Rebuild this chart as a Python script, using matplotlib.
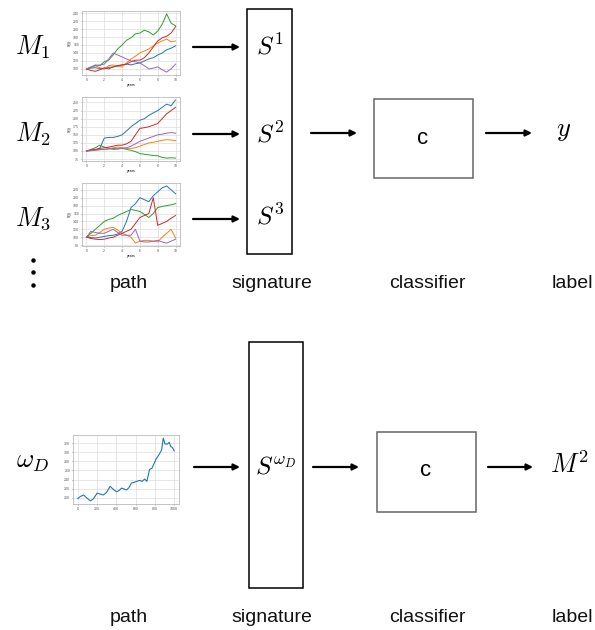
import numpy as np
import matplotlib.pyplot as plt
from matplotlib.patches import Rectangle

plt.rcParams['mathtext.fontset'] = 'cm'
plt.rcParams['font.family'] = 'Liberation Sans'

W, H = 595, 630

# simulated price paths shown in the thumbnails
years = np.arange(0, 10.5, 0.5)
path1 = {
    'tab:blue':   [100, 102, 103, 101, 100, 104, 105, 108, 110, 112, 110, 113, 115, 120, 125, 128, 135, 140, 148, 152, 158],
    'tab:orange': [100, 104, 108, 103, 100, 108, 110, 106, 105, 115, 125, 132, 140, 145, 150, 158, 165, 170, 175, 168, 170],
    'tab:green':  [100, 104, 110, 108, 118, 122, 135, 150, 160, 172, 178, 188, 190, 197, 193, 185, 195, 212, 238, 215, 208],
    'tab:red':    [100, 96, 94, 98, 103, 100, 105, 108, 110, 112, 118, 122, 122, 128, 140, 155, 170, 178, 182, 190, 206],
    'tab:purple': [100, 105, 108, 110, 112, 125, 140, 135, 130, 125, 120, 118, 115, 108, 100, 102, 105, 98, 92, 100, 112],
}
path2 = {
    'tab:blue':   [100, 102, 103, 108, 140, 142, 142, 145, 150, 162, 175, 185, 195, 200, 210, 218, 225, 235, 245, 240, 258],
    'tab:orange': [100, 101, 102, 104, 105, 107, 110, 112, 110, 108, 108, 110, 115, 120, 125, 127, 130, 133, 135, 134, 132],
    'tab:green':  [100, 105, 110, 118, 112, 108, 105, 106, 108, 105, 102, 98, 92, 90, 88, 86, 85, 80, 78, 79, 78],
    'tab:red':    [100, 103, 105, 108, 110, 112, 115, 118, 118, 122, 130, 150, 170, 172, 175, 180, 185, 200, 215, 225, 235],
    'tab:purple': [100, 101, 103, 104, 105, 106, 108, 107, 108, 110, 115, 122, 130, 135, 140, 145, 150, 152, 155, 157, 155],
}
path3 = {
    'tab:blue':   [100, 99, 98, 100, 102, 104, 105, 108, 115, 140, 175, 185, 200, 195, 190, 205, 215, 225, 230, 220, 210],
    'tab:orange': [100, 104, 105, 112, 120, 123, 125, 118, 110, 105, 100, 85, 90, 92, 92, 90, 88, 100, 110, 120, 98],
    'tab:green':  [100, 110, 120, 130, 140, 145, 148, 155, 160, 165, 170, 168, 165, 158, 150, 160, 175, 178, 180, 182, 185],
    'tab:red':    [100, 97, 95, 94, 95, 98, 100, 105, 110, 115, 120, 135, 150, 155, 160, 200, 130, 135, 140, 148, 155],
    'tab:purple': [100, 115, 112, 110, 110, 115, 120, 112, 105, 105, 105, 120, 90, 88, 88, 90, 92, 88, 85, 90, 95],
}
days = [0, 10, 30, 60, 90, 130, 160, 200, 230, 266, 300, 335, 370, 400, 430, 454, 480, 505, 530, 556,
        600, 641, 670, 693, 717, 744, 770, 812, 846, 870, 887, 905, 930, 948, 965, 980, 1000]
path_d = [198, 200, 203, 206, 200, 193, 197, 210, 208, 206, 212, 225, 218, 213, 216, 221, 219, 217, 222, 232,
          235, 238, 236, 241, 236, 262, 265, 285, 296, 305, 331, 318, 318, 322, 312, 311, 303]

fig = plt.figure(figsize=(W / 100, H / 100), dpi=100)
ax = fig.add_axes([0, 0, 1, 1])
ax.set_xlim(0, W)
ax.set_ylim(H, 0)
ax.axis('off')


def thumb(x0, y0, x1, y1):
    a = fig.add_axes([x0 / W, 1 - y1 / H, (x1 - x0) / W, (y1 - y0) / H])
    a.grid(True, color='#dddddd', lw=0.5)
    a.set_axisbelow(True)
    for s in a.spines.values():
        s.set_color('#bbbbbb')
        s.set_linewidth(0.6)
    a.tick_params(labelsize=2.5, length=1, width=0.4, pad=1, colors='#555555')
    return a


for paths, (yt, yb) in zip([path1, path2, path3], [(11, 75), (97, 161), (183, 246)]):
    a = thumb(82, yt, 180, yb)
    for c, v in paths.items():
        a.plot(years, v, color=c, lw=0.7)
    a.set_xticks([0, 2, 4, 6, 8, 10])
    a.set_xlabel('years', fontsize=2.5, labelpad=1)
    a.set_ylabel('S(t)', fontsize=2.5, labelpad=1)

a = thumb(73, 435, 179, 504)
a.plot(days, path_d, color='tab:blue', lw=0.8)
a.set_xticks([0, 200, 400, 600, 800, 1000])
a.set_yticks(range(200, 340, 20))


def arrow(xa, xb, y):
    ax.annotate('', xy=(xb, y), xytext=(xa, y),
                arrowprops=dict(arrowstyle='-|>', color='black', lw=1.6,
                                mutation_scale=9, shrinkA=0, shrinkB=0))


def box(x0, y0, x1, y1, ec='black'):
    ax.add_patch(Rectangle((x0, y0), x1 - x0, y1 - y0, fill=False, ec=ec, lw=1.1))


# top pipeline
for lab, y in zip(['$M_1$', '$M_2$', '$M_3$'], [47, 134, 219]):
    ax.text(33, y, lab, fontsize=19, ha='center', va='center')
    arrow(193, 240, y)
for y in [260, 272, 285]:
    ax.plot(33, y, 'o', color='black', ms=2.2)

box(247, 9, 292, 254)
for lab, y in zip(['$S^1$', '$S^2$', '$S^3$'], [47, 135, 217]):
    ax.text(270, y, lab, fontsize=18, ha='center', va='center')
arrow(311, 357, 133)
box(374, 99, 473, 178, ec='#666666')
ax.text(423, 139, 'c', fontsize=16, ha='center', va='center')
arrow(486, 532, 133)
ax.text(564, 131, '$y$', fontsize=19, ha='center', va='center')

# bottom pipeline
ax.text(33, 462, r'$\omega_D$', fontsize=19, ha='center', va='center')
arrow(194, 240, 467)
box(249, 342, 303, 588)
ax.text(276, 466, r'$S^{\omega_D}$', fontsize=18, ha='center', va='center')
arrow(313, 359, 467)
box(377, 432, 476, 512, ec='#666666')
ax.text(426, 470, 'c', fontsize=16, ha='center', va='center')
arrow(488, 533, 467)
ax.text(570, 465, '$M^2$', fontsize=19, ha='center', va='center')

for yy in [283, 617]:
    for lab, x in zip(['path', 'signature', 'classifier', 'label'], [129, 272, 427, 572]):
        ax.text(x, yy, lab, fontsize=14, ha='center', va='center', color='#111111')

fig.savefig('out.png', dpi=100)
